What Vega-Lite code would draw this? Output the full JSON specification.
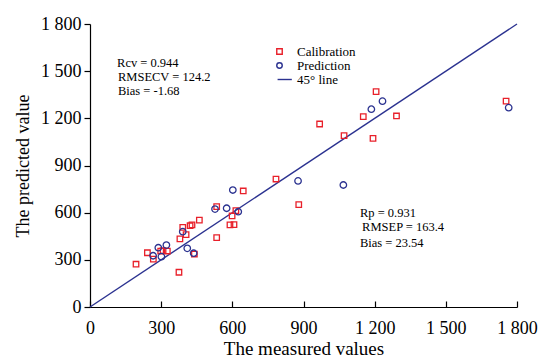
{
  "$schema": "https://vega.github.io/schema/vega-lite/v6.json",
  "width": 427,
  "height": 283,
  "autosize": "none",
  "padding": {"left": 90, "top": 24, "right": 24, "bottom": 51},
  "background": "white",
  "config": {
    "view": {"stroke": null},
    "font": "Liberation Serif",
    "axis": {"grid": false, "domainColor": "black", "tickColor": "black", "labelColor": "black", "titleColor": "black", "labelFont": "Liberation Serif", "titleFont": "Liberation Serif", "titleFontWeight": "normal", "domainWidth": 1.2, "tickWidth": 1.2},
    "legend": {"labelFont": "Liberation Serif"}
  },
  "datasets": {
    "pts": [
      {"series": "Calibration", "measured": 194, "predicted": 272},
      {"series": "Calibration", "measured": 242, "predicted": 345},
      {"series": "Calibration", "measured": 267, "predicted": 305},
      {"series": "Calibration", "measured": 298, "predicted": 356},
      {"series": "Calibration", "measured": 308, "predicted": 358},
      {"series": "Calibration", "measured": 326, "predicted": 356},
      {"series": "Calibration", "measured": 375, "predicted": 221},
      {"series": "Calibration", "measured": 379, "predicted": 433},
      {"series": "Calibration", "measured": 391, "predicted": 507},
      {"series": "Calibration", "measured": 405, "predicted": 460},
      {"series": "Calibration", "measured": 422, "predicted": 517},
      {"series": "Calibration", "measured": 430, "predicted": 522},
      {"series": "Calibration", "measured": 440, "predicted": 337},
      {"series": "Calibration", "measured": 461, "predicted": 553},
      {"series": "Calibration", "measured": 534, "predicted": 441},
      {"series": "Calibration", "measured": 534, "predicted": 638},
      {"series": "Calibration", "measured": 599, "predicted": 579},
      {"series": "Calibration", "measured": 590, "predicted": 522},
      {"series": "Calibration", "measured": 607, "predicted": 524},
      {"series": "Calibration", "measured": 615, "predicted": 613},
      {"series": "Calibration", "measured": 646, "predicted": 738},
      {"series": "Calibration", "measured": 784, "predicted": 814},
      {"series": "Calibration", "measured": 880, "predicted": 651},
      {"series": "Calibration", "measured": 968, "predicted": 1164},
      {"series": "Calibration", "measured": 1071, "predicted": 1090},
      {"series": "Calibration", "measured": 1152, "predicted": 1211},
      {"series": "Calibration", "measured": 1193, "predicted": 1073},
      {"series": "Calibration", "measured": 1206, "predicted": 1370},
      {"series": "Calibration", "measured": 1292, "predicted": 1215},
      {"series": "Calibration", "measured": 1754, "predicted": 1309},
      {"series": "Prediction", "measured": 266, "predicted": 326},
      {"series": "Prediction", "measured": 288, "predicted": 377},
      {"series": "Prediction", "measured": 301, "predicted": 320},
      {"series": "Prediction", "measured": 322, "predicted": 394},
      {"series": "Prediction", "measured": 391, "predicted": 479},
      {"series": "Prediction", "measured": 410, "predicted": 373},
      {"series": "Prediction", "measured": 437, "predicted": 342},
      {"series": "Prediction", "measured": 527, "predicted": 623},
      {"series": "Prediction", "measured": 576, "predicted": 628},
      {"series": "Prediction", "measured": 602, "predicted": 744},
      {"series": "Prediction", "measured": 625, "predicted": 606},
      {"series": "Prediction", "measured": 877, "predicted": 802},
      {"series": "Prediction", "measured": 1068, "predicted": 776},
      {"series": "Prediction", "measured": 1186, "predicted": 1258},
      {"series": "Prediction", "measured": 1233, "predicted": 1309},
      {"series": "Prediction", "measured": 1765, "predicted": 1268}
    ],
    "diag": [
      {"measured": 0, "predicted": 0},
      {"measured": 1800, "predicted": 1800}
    ],
    "notes": [
      {"tx": 114, "ty": 1554, "label": "Rcv = 0.944"},
      {"tx": 118, "ty": 1466, "label": "RMSECV = 124.2"},
      {"tx": 118, "ty": 1374, "label": "Bias = -1.68"},
      {"tx": 1138, "ty": 600, "label": "Rp = 0.931"},
      {"tx": 1147, "ty": 511, "label": "RMSEP = 163.4"},
      {"tx": 1138, "ty": 409, "label": "Bias = 23.54"}
    ]
  },
  "layer": [
    {
      "data": {"name": "diag"},
      "mark": {"type": "line", "color": "#2b3290", "strokeWidth": 1.4},
      "encoding": {
        "x": {"field": "measured", "type": "quantitative", "scale": {"domain": [0, 1800], "nice": false, "zero": true},
          "axis": {"title": "The measured values", "values": [0, 300, 600, 900, 1200, 1500, 1800], "labelExpr": "replace(format(datum.value, ','), ',', ' ')", "tickSize": -6, "labelPadding": 18, "labelFontSize": 18, "titleFontSize": 19, "titlePadding": 2, "labelFlush": false}},
        "y": {"field": "predicted", "type": "quantitative", "scale": {"domain": [0, 1800], "nice": false, "zero": true},
          "axis": {"title": "The predicted value", "values": [0, 300, 600, 900, 1200, 1500, 1800], "labelExpr": "replace(format(datum.value, ','), ',', ' ')", "tickSize": 6, "labelPadding": 3, "labelFontSize": 18, "titleFontSize": 18, "titlePadding": 8, "labelFlush": false}}
      }
    },
    {
      "data": {"name": "pts"},
      "mark": {"type": "point", "filled": false, "strokeWidth": 1.3, "opacity": 1},
      "encoding": {
        "x": {"field": "measured", "type": "quantitative"},
        "y": {"field": "predicted", "type": "quantitative"},
        "color": {"field": "series", "type": "nominal",
          "scale": {"domain": ["Calibration", "Prediction", "45° line"], "range": ["#e8202a", "#2b3290", "#2b3290"]},
          "legend": {"title": null, "orient": "none", "legendX": 183, "legendY": 21, "labelFontSize": 13, "symbolSize": 30, "symbolStrokeWidth": 1.4, "labelOffset": 11, "rowPadding": -2, "padding": 0}},
        "shape": {"field": "series", "type": "nominal",
          "scale": {"domain": ["Calibration", "Prediction", "45° line"], "range": ["square", "circle", "M-0.7,0H4.5"]},
          "legend": {"title": null, "orient": "none", "legendX": 183, "legendY": 21, "labelFontSize": 13, "symbolSize": 30, "symbolStrokeWidth": 1.4, "labelOffset": 11, "rowPadding": -2, "padding": 0}},
        "size": {"field": "series", "type": "nominal", "scale": {"domain": ["Calibration", "Prediction"], "range": [30, 42]}, "legend": null}
      }
    },
    {
      "data": {"name": "notes"},
      "mark": {"type": "text", "align": "left", "baseline": "middle", "fontSize": 12.5, "font": "Liberation Serif", "color": "black"},
      "encoding": {
        "x": {"field": "tx", "type": "quantitative"},
        "y": {"field": "ty", "type": "quantitative"},
        "text": {"field": "label"}
      }
    }
  ]
}
